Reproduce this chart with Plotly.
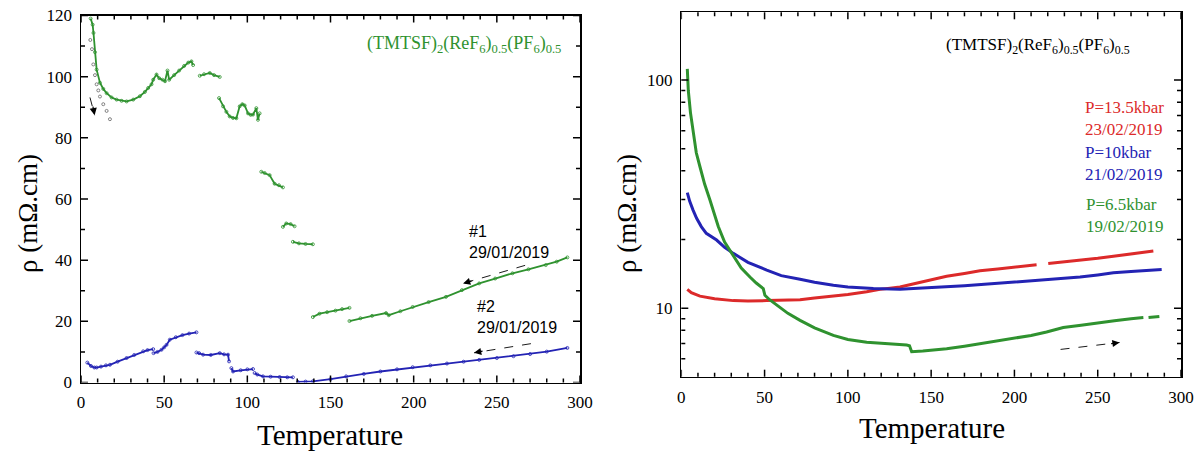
import math
import plotly.graph_objects as go

# ---------------- Left panel data ----------------
L1_T = [5.8, 7.0, 7.5, 8.4, 9.4, 11.4, 13.4, 15.4, 18.4, 21.4, 24.4, 27.4, 31.4, 35.4, 38.4, 40.4, 42.4, 43.4,
        45.4, 47.0, 49.0, 50.5, 52.0, 53.0, 56.0, 59.0, 62.0, 64.5, 66.4, 67.4, None,
        71.4, 74.0, 77.4, 80.0, 83.4, None,
        83.0, 85.4, 87.4, 89.4, 91.4, 93.4, 95.4, 97.0, 98.4, 100.4, 102.0, 103.4, 105.4, 106.4, 107.4, None,
        108.4, 110.4, 113.4, 116.4, 119.0, 121.4, None,
        121.4, 123.4, 126.0, 128.4, None,
        127.4, 131.0, 135.0, 139.4, None,
        139.4, 143.4, 148.0, 153.0, 157.0, 161.4, None,
        161.4, 168.0, 175.0, 183.4, 185.0, 192.0, 199.4, 209.0, 219.4, 229.0, 239.4, 249.0, 259.4, 269.0,
        279.4, 286.0, 292.4]
L1_R = [119.0, 117.0, 114.3, 108.0, 102.3, 98.0, 96.0, 94.6, 93.2, 92.5, 92.1, 91.9, 92.5, 93.6, 95.0, 96.3, 97.5, 99.0,
        100.7, 99.5, 99.0, 98.5, 102.0, 99.0, 100.5, 102.0, 103.5, 104.6, 105.0, 103.8, None,
        100.3, 100.8, 101.2, 100.5, 99.9, None,
        93.0, 90.3, 88.5, 87.0, 86.5, 86.4, 90.3, 91.0, 90.6, 88.0, 87.5, 87.6, 89.7, 85.9, 88.0, None,
        68.9, 68.5, 67.8, 65.0, 64.5, 63.8, None,
        50.9, 52.0, 51.8, 51.1, None,
        46.0, 45.5, 45.3, 45.2, None,
        21.4, 22.5, 23.0, 23.5, 24.0, 24.4, None,
        20.1, 21.0, 21.8, 22.7, 22.0, 23.3, 24.7, 26.3, 28.0, 30.2, 32.4, 34.0, 35.7, 37.0,
        38.4, 39.5, 40.9]

L1c_T = [5.6, 6.6, 7.4, 8.4, 9.4, 10.4, 11.4, 13.4, 15.4, 17.4]
L1c_R = [112.0, 109.0, 104.0, 100.5, 97.5, 95.5, 93.5, 91.0, 88.8, 86.1]

L2_T = [3.8, 6.0, 8.0, 9.4, 12.0, 15.0, 17.4, 22.0, 27.4, 32.0, 37.4, 40.0, 43.4, None,
        43.6, 46.0, 48.4, 50.0, 51.4, 53.4, 57.0, 61.0, 65.0, 69.4, None,
        69.4, 71.0, 73.4, 78.0, 83.4, 86.0, 88.4, 89.0, None,
        90.4, 91.4, 96.0, 100.0, 103.4, None,
        104.4, 106.0, 109.4, 114.0, 119.4, 124.0, 127.4, None,
        130.4, 135.0, 139.4, 150.0, 159.4, 170.0, 180.0, 190.0, 199.4, 210.0, 220.0, 230.0, 239.4, 250.0,
        260.0, 270.0, 280.0, 292.4]
L2_R = [6.5, 5.4, 4.9, 4.9, 5.2, 5.6, 5.8, 6.8, 8.0, 9.0, 10.2, 10.6, 10.9, None,
        9.6, 10.0, 10.7, 11.5, 12.3, 14.0, 14.8, 15.5, 16.0, 16.4, None,
        9.8, 9.6, 9.1, 9.0, 9.6, 9.2, 9.1, 6.9, None,
        4.7, 3.6, 4.0, 4.3, 4.4, None,
        3.1, 2.6, 2.0, 1.9, 1.8, 1.7, 1.7, None,
        0.2, 0.3, 0.4, 1.1, 2.0, 2.8, 3.6, 4.3, 5.0, 5.6, 6.2, 6.8, 7.4, 8.0,
        8.6, 9.3, 10.1, 11.3]

# ---------------- Right panel data ----------------
G_T = [3.6, 4.2, 5.5, 7.2, 9.0, 11.2, 14.0, 17.2, 19.2, 22.2, 26.0, 31.2, 36.0, 41.2, 45.0, 49.2, 50.2, 53.0,
       57.3, 64.0, 71.3, 80.0, 91.3, 100.0, 111.3, 119.3, 128.0, 135.3, 137.0, 138.3, 145.0, 159.3, 170.0,
       179.3, 190.0, 199.3, 210.0, 219.3, 229.3, 240.0, 249.4, 260.0, 270.0, 277.4, None, 280.5, 284.0, 287.0]
G_R = [112.0, 90.0, 72.0, 58.4, 48.0, 41.7, 35.0, 29.8, 26.5, 22.8, 19.5, 17.0, 15.0, 13.7, 12.9, 12.2, 11.4, 10.9,
       10.3, 9.5, 8.85, 8.2, 7.6, 7.3, 7.1, 7.05, 6.98, 6.9, 6.85, 6.45, 6.5, 6.65, 6.82,
       7.0, 7.17, 7.36, 7.6, 7.87, 8.23, 8.42, 8.62, 8.82, 9.0, 9.1, None, 9.1, 9.15, 9.2]

B_T = [3.6, 5.0, 7.0, 9.2, 12.0, 15.0, 21.2, 26.0, 31.2, 40.0, 51.3, 60.0, 71.3, 80.0, 91.3, 100.0, 115.3,
       125.0, 131.3, 139.3, 150.0, 159.3, 170.0, 180.0, 190.0, 199.3, 210.0, 220.0, 230.0, 239.4, 250.0,
       259.4, 270.0, 280.0, 288.4]
B_R = [32.1, 29.5, 27.0, 24.8, 22.8, 21.3, 19.9, 18.5, 17.4, 15.9, 14.7, 13.9, 13.4, 13.0, 12.6, 12.4, 12.2,
       12.1, 12.1, 12.2, 12.3, 12.4, 12.55, 12.7, 12.85, 13.0, 13.2, 13.4, 13.55, 13.7, 14.0,
       14.3, 14.5, 14.65, 14.8]

R_T = [3.6, 6.0, 11.2, 20.0, 31.2, 40.0, 51.3, 60.0, 71.3, 80.0, 91.3, 100.0, 111.3, 119.3, 131.3, 145.0,
       159.3, 170.0, 179.3, 190.0, 199.3, 207.0, 213.3, None, 220.3, 230.0, 239.4, 250.0, 259.4, 270.0, 283.4]
R_R = [12.1, 11.7, 11.3, 11.0, 10.8, 10.75, 10.8, 10.85, 10.9, 11.1, 11.3, 11.5, 11.8, 12.1, 12.4, 13.1,
       13.8, 14.2, 14.6, 14.85, 15.1, 15.3, 15.5, None, 15.7, 15.95, 16.2, 16.55, 16.9, 17.3, 17.8]

X_TICKS = [0, 50, 100, 150, 200, 250, 300]
X_MINOR = [10, 20, 30, 40, 60, 70, 80, 90, 110, 120, 130, 140, 160, 170, 180, 190, 210, 220, 230, 240,
           260, 270, 280, 290]
L_Y_TICKS = [0, 20, 40, 60, 80, 100, 120]
L_Y_MINOR = [10, 30, 50, 70, 90, 110]
R_Y_TICKS = [10, 100]
R_Y_MINOR = [6, 7, 8, 9, 20, 30, 40, 50, 60, 70, 80, 90]

GREEN = "#2f922f"
BLUE = "#2323b4"
RED = "#dc2a2a"
SERIF = "Liberation Serif"
SANS = "Liberation Sans"

W, H = 1203, 457

L_XDOM = [81 / W, 580 / W]
L_YDOM = [1 - 382.5 / H, 1 - 15.5 / H]
R_XDOM = [681.3 / W, 1181 / W]
R_YDOM = [1 - 376.7 / H, 1 - 12.3 / H]

fig = go.Figure()


def pts(x, y, color, xa, ya, size=3, lw=1.8, mode="lines+markers"):
    fig.add_trace(go.Scatter(
        x=x, y=y, mode=mode, xaxis=xa, yaxis=ya, showlegend=False, connectgaps=False,
        line=dict(color=color, width=lw),
        marker=dict(symbol="circle-open", size=size, color=color, line=dict(width=0.8)),
    ))


pts(L1_T, L1_R, GREEN, "x", "y")
pts(L1c_T, L1c_R, "#666666", "x", "y", mode="markers", size=3)
pts(L2_T, L2_R, BLUE, "x", "y")
pts(R_T, R_R, RED, "x2", "y2", lw=3.0, mode="lines")
pts(B_T, B_R, BLUE, "x2", "y2", lw=3.0, mode="lines")
pts(G_T, G_R, GREEN, "x2", "y2", lw=3.0, mode="lines")

arrows = [
    ("x", "y", 267.0, 38.3, 229.7, 32.4),
    ("x", "y", 270.5, 12.7, 236.3, 9.7),
    ("x", "y", 5.4, 93.2, 8.2, 87.4),
    ("x2", "y2", 227.7, 6.6, 263.1, 7.08),
]
for xa, ya, xt, yt, xh, yh in arrows:
    fig.add_trace(go.Scatter(x=[xt, xh], y=[yt, yh], mode="lines", xaxis=xa, yaxis=ya, showlegend=False,
                             line=dict(color="black", width=0.9, dash="dash"), hoverinfo="skip"))

annotations = []
heads = [
    ("x", "y", 229.7, 32.4, 10, -3),
    ("x", "y", 236.3, 9.7, 10, -2),
    ("x", "y", 8.2, 87.4, -2, -10),
    ("x2", "y2", 263.1, math.log10(7.08), -10, 1.5),
]
for xa, ya, xh, yh, ax, ay in heads:
    annotations.append(dict(x=xh, y=yh, xref=xa, yref=ya, ax=ax, ay=ay, text="", showarrow=True,
                            arrowhead=2, arrowsize=1.2, arrowwidth=1.2, arrowcolor="black"))

chem = "(TMTSF)<sub>2</sub>(ReF<sub>6</sub>)<sub>0.5</sub>(PF<sub>6</sub>)<sub>0.5</sub>"
annotations += [
    dict(x=230, y=110.6, xref="x", yref="y", text=chem, showarrow=False,
         font=dict(family=SERIF, size=18, color=GREEN)),
    dict(x=232, y=46.0, xref="x", yref="y", text="#1<br>29/01/2019", showarrow=False, xanchor="left",
         align="left", font=dict(family=SANS, size=16, color="black")),
    dict(x=237, y=21.3, xref="x", yref="y", text="#2<br>29/01/2019", showarrow=False, xanchor="left",
         align="left", font=dict(family=SANS, size=16, color="black")),
    dict(x=214, y=math.log10(141), xref="x2", yref="y2", text=chem, showarrow=False,
         font=dict(family=SERIF, size=17, color="black")),
    dict(x=241, y=math.log10(68.1), xref="x2", yref="y2", text="P=13.5kbar<br>23/02/2019", showarrow=False,
         xanchor="left", align="left", font=dict(family=SERIF, size=17, color=RED)),
    dict(x=241, y=math.log10(42.9), xref="x2", yref="y2", text="P=10kbar<br>21/02/2019", showarrow=False,
         xanchor="left", align="left", font=dict(family=SERIF, size=17, color=BLUE)),
    dict(x=242, y=math.log10(25.5), xref="x2", yref="y2", text="P=6.5kbar<br>19/02/2019", showarrow=False,
         xanchor="left", align="left", font=dict(family=SERIF, size=17, color=GREEN)),
]

titlefont = dict(family=SERIF, size=29, color="black")
annotations += [
    dict(x=330 / W, y=1 - 435 / H, xref="paper", yref="paper", text="Temperature", showarrow=False,
         font=titlefont, xanchor="center", yanchor="middle"),
    dict(x=932 / W, y=1 - 428 / H, xref="paper", yref="paper", text="Temperature", showarrow=False,
         font=titlefont, xanchor="center", yanchor="middle"),
    dict(x=28 / W, y=1 - 214 / H, xref="paper", yref="paper", text="ρ (mΩ.cm)", showarrow=False,
         font=dict(family=SERIF, size=27, color="black"), textangle=-90, xanchor="center", yanchor="middle"),
    dict(x=627 / W, y=1 - 214 / H, xref="paper", yref="paper", text="ρ (mΩ.cm)", showarrow=False,
         font=dict(family=SERIF, size=27, color="black"), textangle=-90, xanchor="center", yanchor="middle"),
]

# tick marks drawn as short line shapes (inside, on all four sides)
shapes = []
TICK_STYLE = dict(color="black", width=1.5)


def add_ticks(xa, ya, xvals_major, xvals_minor, yvals_major, yvals_minor, wpx, hpx):
    for vals, ln in ((xvals_major, 7), (xvals_minor, 4)):
        f = ln / hpx
        for v in vals:
            shapes.append(dict(type="line", xref=xa, yref=ya + " domain", x0=v, x1=v, y0=0, y1=f,
                               line=TICK_STYLE, layer="above"))
            shapes.append(dict(type="line", xref=xa, yref=ya + " domain", x0=v, x1=v, y0=1, y1=1 - f,
                               line=TICK_STYLE, layer="above"))
    for vals, ln in ((yvals_major, 7), (yvals_minor, 4)):
        f = ln / wpx
        for v in vals:
            shapes.append(dict(type="line", xref=xa + " domain", yref=ya, x0=0, x1=f, y0=v, y1=v,
                               line=TICK_STYLE, layer="above"))
            shapes.append(dict(type="line", xref=xa + " domain", yref=ya, x0=1, x1=1 - f, y0=v, y1=v,
                               line=TICK_STYLE, layer="above"))


add_ticks("x", "y", X_TICKS, X_MINOR, L_Y_TICKS, L_Y_MINOR, 499.0, 367.0)
add_ticks("x2", "y2", X_TICKS, X_MINOR, R_Y_TICKS, R_Y_MINOR, 499.7, 364.4)

tickfont = dict(family=SERIF, size=17, color="black")


def axis(**kw):
    d = dict(showline=True, linecolor="black", linewidth=1.5, mirror=True, ticks="",
             showgrid=False, zeroline=False, tickfont=tickfont, automargin=False, tickmode="array",
             fixedrange=True)
    d.update(kw)
    return d


fig.update_layout(
    width=W, height=H, margin=dict(l=0, r=0, t=0, b=0, autoexpand=False),
    paper_bgcolor="white", plot_bgcolor="white",
    annotations=annotations, shapes=shapes,
    xaxis=axis(domain=L_XDOM, range=[0, 300], tickvals=X_TICKS, anchor="y", ticklabelstandoff=4),
    yaxis=axis(domain=L_YDOM, range=[0, 120], tickvals=L_Y_TICKS, anchor="x", ticklabelstandoff=4),
    xaxis2=axis(domain=R_XDOM, range=[0, 300], tickvals=X_TICKS, anchor="y2", ticklabelstandoff=4),
    yaxis2=axis(domain=R_YDOM, type="log", range=[0.7, 2.297], tickvals=R_Y_TICKS, anchor="x2",
                ticklabelstandoff=4),
)

fig.write_html("out.html", config={"displayModeBar": False, "staticPlot": True},
               post_script="document.body.style.margin='0px';")
